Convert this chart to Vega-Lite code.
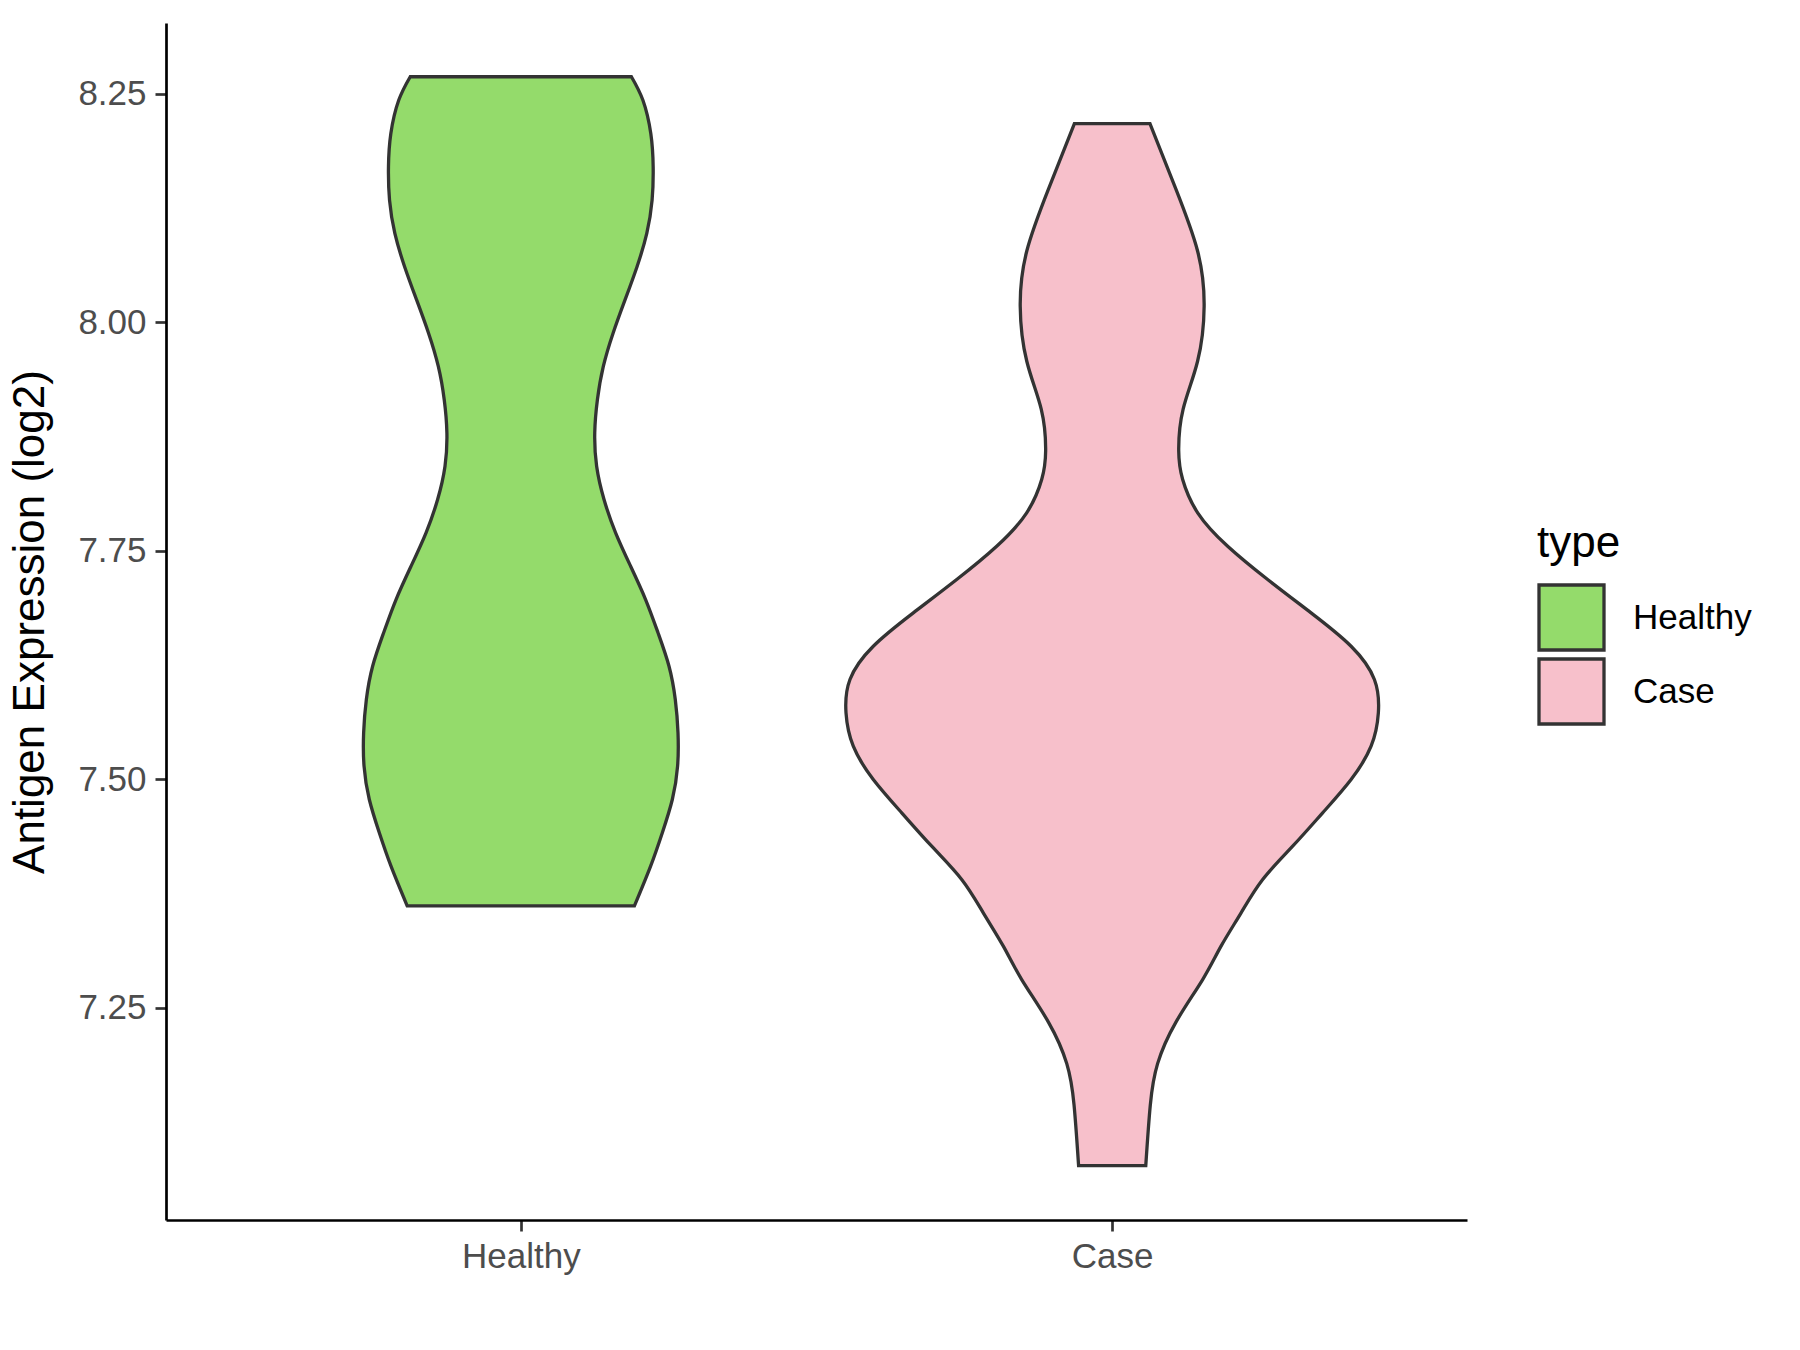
{
  "$schema": "https://vega.github.io/schema/vega-lite/v6.json",
  "width": 1301,
  "height": 1197,
  "autosize": "none",
  "padding": {"left": 166, "top": 23, "right": 333, "bottom": 130},
  "background": "white",
  "data": {
    "values": [
      {"type": "Healthy", "value": 7.3612, "hw": 0.1921},
      {"type": "Healthy", "value": 7.4047, "hw": 0.2195},
      {"type": "Healthy", "value": 7.4413, "hw": 0.2393},
      {"type": "Healthy", "value": 7.4777, "hw": 0.2562},
      {"type": "Healthy", "value": 7.5141, "hw": 0.2651},
      {"type": "Healthy", "value": 7.5507, "hw": 0.2658},
      {"type": "Healthy", "value": 7.5871, "hw": 0.2612},
      {"type": "Healthy", "value": 7.6235, "hw": 0.2506},
      {"type": "Healthy", "value": 7.6601, "hw": 0.2320},
      {"type": "Healthy", "value": 7.6965, "hw": 0.2110},
      {"type": "Healthy", "value": 7.7329, "hw": 0.1857},
      {"type": "Healthy", "value": 7.7695, "hw": 0.1603},
      {"type": "Healthy", "value": 7.8059, "hw": 0.1407},
      {"type": "Healthy", "value": 7.8423, "hw": 0.1282},
      {"type": "Healthy", "value": 7.8787, "hw": 0.1250},
      {"type": "Healthy", "value": 7.9151, "hw": 0.1295},
      {"type": "Healthy", "value": 7.9515, "hw": 0.1395},
      {"type": "Healthy", "value": 7.9879, "hw": 0.1560},
      {"type": "Healthy", "value": 8.0243, "hw": 0.1762},
      {"type": "Healthy", "value": 8.0607, "hw": 0.1965},
      {"type": "Healthy", "value": 8.0971, "hw": 0.2130},
      {"type": "Healthy", "value": 8.1335, "hw": 0.2220},
      {"type": "Healthy", "value": 8.1699, "hw": 0.2238},
      {"type": "Healthy", "value": 8.2063, "hw": 0.2198},
      {"type": "Healthy", "value": 8.2427, "hw": 0.2065},
      {"type": "Healthy", "value": 8.2685, "hw": 0.1870},
      {"type": "Case", "value": 7.0771, "hw": 0.0568},
      {"type": "Case", "value": 7.1436, "hw": 0.0645},
      {"type": "Case", "value": 7.1887, "hw": 0.0768},
      {"type": "Case", "value": 7.2339, "hw": 0.1076},
      {"type": "Case", "value": 7.2807, "hw": 0.1530},
      {"type": "Case", "value": 7.3172, "hw": 0.1841},
      {"type": "Case", "value": 7.3537, "hw": 0.2180},
      {"type": "Case", "value": 7.3902, "hw": 0.2545},
      {"type": "Case", "value": 7.4266, "hw": 0.3052},
      {"type": "Case", "value": 7.4631, "hw": 0.3559},
      {"type": "Case", "value": 7.4996, "hw": 0.4040},
      {"type": "Case", "value": 7.5360, "hw": 0.4378},
      {"type": "Case", "value": 7.5725, "hw": 0.4501},
      {"type": "Case", "value": 7.6090, "hw": 0.4434},
      {"type": "Case", "value": 7.6454, "hw": 0.4040},
      {"type": "Case", "value": 7.6819, "hw": 0.3363},
      {"type": "Case", "value": 7.7184, "hw": 0.2629},
      {"type": "Case", "value": 7.7548, "hw": 0.1953},
      {"type": "Case", "value": 7.7914, "hw": 0.1446},
      {"type": "Case", "value": 7.8278, "hw": 0.1192},
      {"type": "Case", "value": 7.8593, "hw": 0.1125},
      {"type": "Case", "value": 7.9045, "hw": 0.1199},
      {"type": "Case", "value": 7.9572, "hw": 0.1444},
      {"type": "Case", "value": 8.0175, "hw": 0.1555},
      {"type": "Case", "value": 8.0778, "hw": 0.1444},
      {"type": "Case", "value": 8.1457, "hw": 0.1076},
      {"type": "Case", "value": 8.2172, "hw": 0.0639}
    ]
  },
  "transform": [
    {"calculate": "datum.type === 'Healthy' ? 1 : 2", "as": "pos"},
    {"calculate": "datum.pos - datum.hw", "as": "lo"},
    {"calculate": "datum.pos + datum.hw", "as": "hi"}
  ],
  "mark": {
    "type": "area",
    "orient": "horizontal",
    "interpolate": "natural",
    "stroke": "#333333",
    "strokeWidth": 3.3,
    "fillOpacity": 1
  },
  "encoding": {
    "y": {
      "field": "value",
      "type": "quantitative",
      "scale": {"domain": [7.0176, 8.3273], "nice": false, "zero": false},
      "axis": {
        "title": "Antigen Expression (log2)",
        "values": [7.25, 7.5, 7.75, 8, 8.25],
        "format": ".2f",
        "titlePadding": 25,
        "labelPadding": 9
      }
    },
    "x": {
      "field": "lo",
      "type": "quantitative",
      "scale": {"domain": [0.4, 2.6], "nice": false, "zero": false},
      "axis": {
        "title": null,
        "values": [1, 2],
        "labelExpr": "datum.value == 1 ? 'Healthy' : 'Case'",
        "labelPadding": 8
      }
    },
    "x2": {"field": "hi"},
    "color": {
      "field": "type",
      "type": "nominal",
      "scale": {"domain": ["Healthy", "Case"], "range": ["#94DB6B", "#F7C0CB"]},
      "legend": {
        "title": "type",
        "orient": "none",
        "legendX": 1371,
        "legendY": 499,
        "symbolType": "square",
        "symbolSize": 4225,
        "symbolStrokeColor": "#333333",
        "symbolStrokeWidth": 3.3,
        "symbolOpacity": 1,
        "labelOffset": 27,
        "rowPadding": -6,
        "titlePadding": 17
      }
    }
  },
  "config": {
    "view": {"stroke": null},
    "font": "Liberation Sans",
    "axis": {
      "grid": false,
      "domainColor": "#000000",
      "domainWidth": 2.7,
      "tickColor": "#333333",
      "tickWidth": 2.7,
      "tickSize": 11,
      "labelColor": "#4D4D4D",
      "labelFontSize": 35,
      "labelFont": "Liberation Sans",
      "titleFont": "Liberation Sans",
      "titleFontSize": 44,
      "titleFontWeight": "normal",
      "titleColor": "#000000"
    },
    "legend": {
      "labelFont": "Liberation Sans",
      "labelFontSize": 35,
      "labelColor": "#000000",
      "titleFont": "Liberation Sans",
      "titleFontSize": 44,
      "titleFontWeight": "normal",
      "titleColor": "#000000"
    }
  }
}
